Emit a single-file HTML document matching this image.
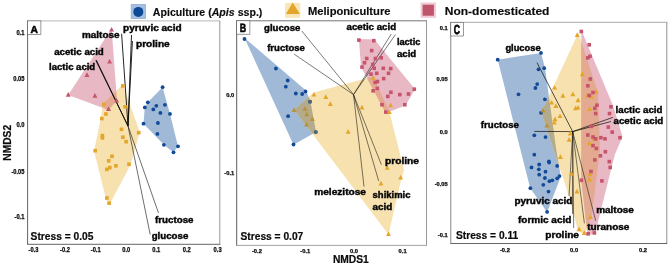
<!DOCTYPE html>
<html><head><meta charset="utf-8"><title>NMDS</title>
<style>
html,body{margin:0;padding:0;background:#fff;}
svg{display:block;}
text{font-family:"Liberation Sans",sans-serif;fill:#111;}
.lb{font-weight:bold;fill:#050505;stroke:#050505;stroke-width:0.42px;}
.st{font-weight:bold;fill:#0a0a0a;stroke:#0a0a0a;stroke-width:0.2px;}
.lg{font-weight:bold;fill:#0c0c0c;stroke:#0c0c0c;stroke-width:0.15px;}
.tk{font-weight:bold;fill:#0a0a0a;stroke:#0a0a0a;stroke-width:0.25px;}
.pl{font-weight:bold;fill:#000;stroke:#000;stroke-width:0.5px;text-rendering:geometricPrecision;}
</style></head><body>
<svg width="669" height="266" viewBox="0 0 669 266">
<rect width="669" height="266" fill="#fff"/>
<rect x="27.6" y="20.9" width="192.2" height="223.4" fill="#fff"/>
<polygon points="111.6,28.5 68.2,95.0 108.5,110.0 117.0,100.4" fill="#e8b9c5" fill-opacity="1.0"/>
<polygon points="122.8,84.5 103.0,103.5 100.8,118.5 94.0,151.0 106.0,199.0 109.5,204.5 130.5,165.0 139.8,132.0" fill="#f7e1af" fill-opacity="1.0"/>
<polygon points="162.6,87.2 147.8,102.3 144.8,107.4 143.5,123.7 163.9,144.8 173.5,152.3 178.0,146.3 170.0,113.9" fill="#a0b9d7" fill-opacity="1.0"/>
<clipPath id="c1"><polygon points="111.6,28.5 68.2,95.0 108.5,110.0 117.0,100.4"/></clipPath>
<polygon clip-path="url(#c1)" points="122.8,84.5 103.0,103.5 100.8,118.5 94.0,151.0 106.0,199.0 109.5,204.5 130.5,165.0 139.8,132.0" fill="#e4aa91"/>
<line x1="128.0" y1="126.0" x2="121.6" y2="33.8" stroke="#0c0c0c" stroke-width="0.9"/>
<line x1="128.0" y1="126.0" x2="131.5" y2="35.0" stroke="#0c0c0c" stroke-width="0.9"/>
<line x1="128.0" y1="126.0" x2="132.4" y2="41.0" stroke="#0c0c0c" stroke-width="0.9"/>
<line x1="128.0" y1="126.0" x2="95.8" y2="60.3" stroke="#0c0c0c" stroke-width="0.9"/>
<line x1="128.0" y1="126.0" x2="96.3" y2="60.1" stroke="#0c0c0c" stroke-width="0.9"/>
<line x1="128.0" y1="126.0" x2="158.5" y2="213.0" stroke="#0c0c0c" stroke-width="0.6"/>
<line x1="128.0" y1="126.0" x2="150.2" y2="234.5" stroke="#0c0c0c" stroke-width="0.6"/>
<polygon points="111.6,26.9 109.1,31.6 114.0,31.6" fill="#c5546c"/>
<polygon points="109.6,58.9 107.1,63.6 112.0,63.6" fill="#c5546c"/>
<polygon points="87.0,72.3 84.5,77.0 89.5,77.0" fill="#c5546c"/>
<polygon points="68.2,92.1 65.8,96.8 70.7,96.8" fill="#c5546c"/>
<polygon points="94.9,93.1 92.5,97.8 97.4,97.8" fill="#c5546c"/>
<polygon points="116.6,97.7 114.1,102.4 119.0,102.4" fill="#c5546c"/>
<polygon points="108.5,106.2 106.0,110.9 111.0,110.9" fill="#c5546c"/>
<rect x="121.0" y="84.1" width="3.6" height="3.6" fill="#e3a62a"/>
<rect x="123.3" y="105.0" width="3.6" height="3.6" fill="#e3a62a"/>
<rect x="102.0" y="102.5" width="3.6" height="3.6" fill="#e3a62a"/>
<rect x="104.1" y="112.2" width="3.6" height="3.6" fill="#e3a62a"/>
<rect x="100.0" y="116.8" width="3.6" height="3.6" fill="#e3a62a"/>
<rect x="119.7" y="127.5" width="3.6" height="3.6" fill="#e3a62a"/>
<rect x="136.9" y="130.9" width="3.6" height="3.6" fill="#e3a62a"/>
<rect x="100.6" y="133.8" width="3.6" height="3.6" fill="#e3a62a"/>
<rect x="100.6" y="136.1" width="3.6" height="3.6" fill="#e3a62a"/>
<rect x="121.1" y="135.4" width="3.6" height="3.6" fill="#e3a62a"/>
<rect x="124.3" y="139.9" width="3.6" height="3.6" fill="#e3a62a"/>
<rect x="93.4" y="148.9" width="3.6" height="3.6" fill="#e3a62a"/>
<rect x="110.2" y="154.5" width="3.6" height="3.6" fill="#e3a62a"/>
<rect x="106.9" y="159.0" width="3.6" height="3.6" fill="#e3a62a"/>
<rect x="114.1" y="164.0" width="3.6" height="3.6" fill="#e3a62a"/>
<rect x="108.0" y="165.8" width="3.6" height="3.6" fill="#e3a62a"/>
<rect x="105.1" y="167.6" width="3.6" height="3.6" fill="#e3a62a"/>
<rect x="127.2" y="162.4" width="3.6" height="3.6" fill="#e3a62a"/>
<rect x="105.1" y="196.2" width="3.6" height="3.6" fill="#e3a62a"/>
<rect x="107.3" y="201.4" width="3.6" height="3.6" fill="#e3a62a"/>
<circle cx="162.6" cy="87.2" r="1.9" fill="#124a98"/>
<circle cx="147.8" cy="102.3" r="1.9" fill="#124a98"/>
<circle cx="144.8" cy="107.4" r="1.9" fill="#124a98"/>
<circle cx="156.3" cy="105.8" r="1.9" fill="#124a98"/>
<circle cx="164.9" cy="104.8" r="1.9" fill="#124a98"/>
<circle cx="153.3" cy="109.4" r="1.9" fill="#124a98"/>
<circle cx="160.4" cy="112.9" r="1.9" fill="#124a98"/>
<circle cx="170.0" cy="113.9" r="1.9" fill="#124a98"/>
<circle cx="143.5" cy="123.7" r="1.9" fill="#124a98"/>
<circle cx="157.9" cy="123.0" r="1.9" fill="#124a98"/>
<circle cx="157.4" cy="133.9" r="1.9" fill="#124a98"/>
<circle cx="163.9" cy="144.8" r="1.9" fill="#124a98"/>
<circle cx="178.0" cy="146.3" r="1.9" fill="#124a98"/>
<circle cx="173.5" cy="152.3" r="1.9" fill="#124a98"/>
<text class="lb" x="82.0" y="37.6" font-size="9.3" textLength="37.5" lengthAdjust="spacingAndGlyphs">maltose</text>
<text class="lb" x="123.1" y="31.0" font-size="9.3" textLength="58.5" lengthAdjust="spacingAndGlyphs">pyruvic acid</text>
<text class="lb" x="136.0" y="47.0" font-size="9.3" textLength="33.7" lengthAdjust="spacingAndGlyphs">proline</text>
<text class="lb" x="54.2" y="55.2" font-size="9.3" textLength="49.6" lengthAdjust="spacingAndGlyphs">acetic acid</text>
<text class="lb" x="49.1" y="70.1" font-size="9.3" textLength="46.1" lengthAdjust="spacingAndGlyphs">lactic acid</text>
<text class="lb" x="155.1" y="222.9" font-size="9.3" textLength="38.4" lengthAdjust="spacingAndGlyphs">fructose</text>
<text class="lb" x="151.7" y="238.9" font-size="9.3" textLength="36.6" lengthAdjust="spacingAndGlyphs">glucose</text>
<line x1="27.15" y1="20.90" x2="220.25" y2="20.90" stroke="#b0b0b0" stroke-width="0.9"/>
<line x1="219.80" y1="20.90" x2="219.80" y2="244.30" stroke="#8c8c8c" stroke-width="0.9"/>
<line x1="27.15" y1="244.30" x2="220.25" y2="244.30" stroke="#555" stroke-width="0.9"/>
<line x1="27.60" y1="20.90" x2="27.60" y2="244.30" stroke="#505050" stroke-width="0.9"/>
<rect x="27.6" y="20.9" width="13.3" height="13.4" fill="#fff" stroke="#555" stroke-width="0.6"/>
<text class="pl" font-size="10.3" transform="translate(34.1,32.7) scale(1,1)" text-anchor="middle">A</text>
<text class="tk" font-size="6.5" x="24.4" y="35.0" text-anchor="end" textLength="8.0" lengthAdjust="spacingAndGlyphs">0.1</text>
<text class="tk" font-size="6.5" x="24.4" y="81.1" text-anchor="end" textLength="11.1" lengthAdjust="spacingAndGlyphs">0.05</text>
<text class="tk" font-size="6.5" x="24.4" y="127.3" text-anchor="end" textLength="8.0" lengthAdjust="spacingAndGlyphs">0.0</text>
<text class="tk" font-size="6.5" x="24.4" y="173.9" text-anchor="end" textLength="13.0" lengthAdjust="spacingAndGlyphs">-0.05</text>
<text class="tk" font-size="6.5" x="24.4" y="219.3" text-anchor="end" textLength="9.9" lengthAdjust="spacingAndGlyphs">-0.1</text>
<text class="tk" font-size="6.5" x="33.5" y="252.1" text-anchor="middle" textLength="9.9" lengthAdjust="spacingAndGlyphs">-0.3</text>
<text class="tk" font-size="6.5" x="65.0" y="252.1" text-anchor="middle" textLength="9.9" lengthAdjust="spacingAndGlyphs">-0.2</text>
<text class="tk" font-size="6.5" x="95.7" y="252.1" text-anchor="middle" textLength="9.9" lengthAdjust="spacingAndGlyphs">-0.1</text>
<text class="tk" font-size="6.5" x="126.2" y="252.1" text-anchor="middle" textLength="8.0" lengthAdjust="spacingAndGlyphs">0.0</text>
<text class="tk" font-size="6.5" x="156.2" y="252.1" text-anchor="middle" textLength="8.0" lengthAdjust="spacingAndGlyphs">0.1</text>
<text class="tk" font-size="6.5" x="186.7" y="252.1" text-anchor="middle" textLength="8.0" lengthAdjust="spacingAndGlyphs">0.2</text>
<text class="tk" font-size="6.5" x="217.6" y="252.1" text-anchor="middle" textLength="8.0" lengthAdjust="spacingAndGlyphs">0.3</text>
<text class="st" x="30.6" y="239.8" font-size="10.5" textLength="62.8" lengthAdjust="spacingAndGlyphs">Stress = 0.05</text>
<rect x="236.7" y="20.8" width="189.8" height="224.6" fill="#fff"/>
<polygon points="244.5,38.0 306.0,90.5 310.5,101.7 316.0,132.1 293.5,144.8" fill="#a0b9d7" fill-opacity="1.0"/>
<polygon points="294.1,110.0 313.5,92.5 373.3,76.5 389.5,112.0 404.0,170.0 401.5,178.0 388.5,234.5 311.0,132.0" fill="#f7e1af" fill-opacity="1.0"/>
<polygon points="358.9,39.0 374.5,39.5 415.0,89.2 405.5,105.5 385.8,113.0 361.0,67.0" fill="#e8b9c5" fill-opacity="1.0"/>
<clipPath id="c2"><polygon points="244.5,38.0 306.0,90.5 310.5,101.7 316.0,132.1 293.5,144.8"/></clipPath>
<polygon clip-path="url(#c2)" points="294.1,110.0 313.5,92.5 373.3,76.5 389.5,112.0 404.0,170.0 401.5,178.0 388.5,234.5 311.0,132.0" fill="#b4aa8c"/>
<clipPath id="c3"><polygon points="358.9,39.0 374.5,39.5 415.0,89.2 405.5,105.5 385.8,113.0 361.0,67.0"/></clipPath>
<polygon clip-path="url(#c3)" points="294.1,110.0 313.5,92.5 373.3,76.5 389.5,112.0 404.0,170.0 401.5,178.0 388.5,234.5 311.0,132.0" fill="#e4aa91"/>
<line x1="353.5" y1="94.6" x2="301.8" y2="31.0" stroke="#0c0c0c" stroke-width="0.55"/>
<line x1="353.5" y1="94.6" x2="294.1" y2="54.1" stroke="#0c0c0c" stroke-width="0.55"/>
<line x1="353.5" y1="94.6" x2="391.3" y2="34.0" stroke="#0c0c0c" stroke-width="0.55"/>
<line x1="353.5" y1="94.6" x2="395.5" y2="34.5" stroke="#0c0c0c" stroke-width="0.55"/>
<line x1="353.5" y1="94.6" x2="364.0" y2="186.6" stroke="#0c0c0c" stroke-width="0.55"/>
<line x1="353.5" y1="94.6" x2="381.4" y2="164.7" stroke="#0c0c0c" stroke-width="0.55"/>
<line x1="353.5" y1="94.6" x2="378.7" y2="181.0" stroke="#0c0c0c" stroke-width="0.55"/>
<circle cx="244.5" cy="39.0" r="1.9" fill="#124a98"/>
<circle cx="275.9" cy="68.5" r="1.9" fill="#124a98"/>
<circle cx="287.7" cy="80.5" r="1.9" fill="#124a98"/>
<circle cx="285.8" cy="86.7" r="1.9" fill="#124a98"/>
<circle cx="295.8" cy="93.5" r="1.9" fill="#124a98"/>
<circle cx="302.2" cy="94.0" r="1.9" fill="#124a98"/>
<circle cx="305.5" cy="91.5" r="1.9" fill="#124a98"/>
<circle cx="310.0" cy="101.7" r="1.9" fill="#124a98"/>
<circle cx="288.1" cy="116.2" r="1.9" fill="#124a98"/>
<circle cx="315.8" cy="132.1" r="1.9" fill="#124a98"/>
<circle cx="293.5" cy="144.5" r="1.9" fill="#124a98"/>
<circle cx="310" cy="101.7" r="1.9" fill="#4d6b78"/><circle cx="315.8" cy="132.1" r="1.9" fill="#4d6b78"/>
<polygon points="373.3,75.1 370.9,79.8 375.8,79.8" fill="#e3a62a"/>
<polygon points="325.8,94.3 323.4,99.0 328.2,99.0" fill="#e3a62a"/>
<polygon points="330.3,101.2 327.9,105.9 332.8,105.9" fill="#e3a62a"/>
<polygon points="362.0,104.7 359.6,109.4 364.4,109.4" fill="#e3a62a"/>
<polygon points="390.7,102.6 388.2,107.3 393.1,107.3" fill="#e3a62a"/>
<polygon points="389.3,109.4 386.9,114.1 391.8,114.1" fill="#e3a62a"/>
<polygon points="314.0,91.9 311.6,96.6 316.4,96.6" fill="#e3a62a"/>
<polygon points="348.1,129.0 345.7,133.7 350.6,133.7" fill="#e3a62a"/>
<polygon points="387.2,165.0 384.8,169.7 389.6,169.7" fill="#e3a62a"/>
<polygon points="400.7,174.7 398.2,179.4 403.1,179.4" fill="#e3a62a"/>
<polygon points="381.0,180.8 378.6,185.5 383.4,185.5" fill="#e3a62a"/>
<polygon points="388.5,231.3 386.1,236.0 390.9,236.0" fill="#e3a62a"/>
<rect x="357.1" y="38.3" width="3.6" height="3.6" fill="#c5546c"/>
<rect x="372.0" y="38.9" width="3.6" height="3.6" fill="#c5546c"/>
<rect x="369.9" y="48.8" width="3.6" height="3.6" fill="#c5546c"/>
<rect x="364.9" y="56.7" width="3.6" height="3.6" fill="#c5546c"/>
<rect x="373.6" y="56.7" width="3.6" height="3.6" fill="#c5546c"/>
<rect x="379.4" y="56.0" width="3.6" height="3.6" fill="#c5546c"/>
<rect x="362.7" y="61.0" width="3.6" height="3.6" fill="#c5546c"/>
<rect x="370.9" y="62.7" width="3.6" height="3.6" fill="#c5546c"/>
<rect x="360.2" y="65.3" width="3.6" height="3.6" fill="#c5546c"/>
<rect x="372.4" y="66.5" width="3.6" height="3.6" fill="#c5546c"/>
<rect x="381.5" y="66.5" width="3.6" height="3.6" fill="#c5546c"/>
<rect x="388.9" y="66.8" width="3.6" height="3.6" fill="#c5546c"/>
<rect x="369.2" y="72.3" width="3.6" height="3.6" fill="#c5546c"/>
<rect x="374.9" y="71.5" width="3.6" height="3.6" fill="#c5546c"/>
<rect x="386.7" y="71.5" width="3.6" height="3.6" fill="#c5546c"/>
<rect x="381.9" y="76.8" width="3.6" height="3.6" fill="#c5546c"/>
<rect x="375.7" y="79.7" width="3.6" height="3.6" fill="#c5546c"/>
<rect x="373.4" y="80.6" width="3.6" height="3.6" fill="#c5546c"/>
<rect x="371.3" y="89.0" width="3.6" height="3.6" fill="#c5546c"/>
<rect x="375.5" y="86.6" width="3.6" height="3.6" fill="#c5546c"/>
<rect x="389.1" y="90.5" width="3.6" height="3.6" fill="#c5546c"/>
<rect x="386.0" y="94.6" width="3.6" height="3.6" fill="#c5546c"/>
<rect x="398.0" y="92.8" width="3.6" height="3.6" fill="#c5546c"/>
<rect x="406.7" y="92.2" width="3.6" height="3.6" fill="#c5546c"/>
<rect x="412.5" y="87.4" width="3.6" height="3.6" fill="#c5546c"/>
<rect x="403.0" y="102.9" width="3.6" height="3.6" fill="#c5546c"/>
<rect x="380.2" y="102.9" width="3.6" height="3.6" fill="#c5546c"/>
<rect x="384.0" y="110.3" width="3.6" height="3.6" fill="#c5546c"/>
<polygon points="294.1,107.2 291.7,111.9 296.6,111.9" fill="#b8933a"/>
<polygon points="304.9,106.1 302.4,110.8 307.3,110.8" fill="#b8933a"/>
<polygon points="306.9,111.6 304.4,116.3 309.3,116.3" fill="#b8933a"/>
<polygon points="312.3,116.3 309.9,121.0 314.8,121.0" fill="#b8933a"/>
<polygon points="306.5,121.7 304.1,126.4 308.9,126.4" fill="#b8933a"/>
<text class="lb" x="264.1" y="31.2" font-size="9.3" textLength="36.2" lengthAdjust="spacingAndGlyphs">glucose</text>
<text class="lb" x="267.2" y="51.0" font-size="9.3" textLength="37.7" lengthAdjust="spacingAndGlyphs">fructose</text>
<text class="lb" x="346.5" y="30.4" font-size="9.3" textLength="49.6" lengthAdjust="spacingAndGlyphs">acetic acid</text>
<text class="lb" x="396.9" y="44.8" font-size="9.3" textLength="23.4" lengthAdjust="spacingAndGlyphs">lactic</text>
<text class="lb" x="397.0" y="56.6" font-size="9.3" textLength="19.2" lengthAdjust="spacingAndGlyphs">acid</text>
<text class="lb" x="385.0" y="163.9" font-size="9.3" textLength="34.0" lengthAdjust="spacingAndGlyphs">proline</text>
<text class="lb" x="314.2" y="194.8" font-size="9.3" textLength="51.8" lengthAdjust="spacingAndGlyphs">melezitose</text>
<text class="lb" x="372.6" y="197.8" font-size="9.3" textLength="37.9" lengthAdjust="spacingAndGlyphs">shikimic</text>
<text class="lb" x="372.6" y="210.0" font-size="9.3" textLength="19.8" lengthAdjust="spacingAndGlyphs">acid</text>
<line x1="236.25" y1="20.80" x2="426.95" y2="20.80" stroke="#666" stroke-width="0.9"/>
<line x1="426.50" y1="20.80" x2="426.50" y2="245.40" stroke="#8c8c8c" stroke-width="0.9"/>
<line x1="236.25" y1="245.40" x2="426.95" y2="245.40" stroke="#999" stroke-width="0.9"/>
<line x1="236.70" y1="20.80" x2="236.70" y2="245.40" stroke="#4a4a4a" stroke-width="0.9"/>
<rect x="236.7" y="20.8" width="13.2" height="13.4" fill="#fff" stroke="#555" stroke-width="0.6"/>
<text class="pl" font-size="10.3" transform="translate(243.0,31.9) scale(0.86,1.17)" text-anchor="middle">B</text>
<text class="tk" font-size="5.6" x="234.2" y="96.8" text-anchor="end" textLength="8.0" lengthAdjust="spacingAndGlyphs">0.0</text>
<text class="tk" font-size="5.6" x="234.2" y="174.5" text-anchor="end" textLength="9.9" lengthAdjust="spacingAndGlyphs">-0.1</text>
<text class="tk" font-size="5.6" x="256.9" y="252.9" text-anchor="middle" textLength="9.9" lengthAdjust="spacingAndGlyphs">-0.2</text>
<text class="tk" font-size="5.6" x="305.3" y="252.9" text-anchor="middle" textLength="9.9" lengthAdjust="spacingAndGlyphs">-0.1</text>
<text class="tk" font-size="5.6" x="354.0" y="252.9" text-anchor="middle" textLength="8.0" lengthAdjust="spacingAndGlyphs">0.0</text>
<text class="tk" font-size="5.6" x="402.6" y="252.9" text-anchor="middle" textLength="8.0" lengthAdjust="spacingAndGlyphs">0.1</text>
<text class="st" x="240.5" y="240.0" font-size="10.5" textLength="62.8" lengthAdjust="spacingAndGlyphs">Stress = 0.07</text>
<text class="st" x="332.9" y="263.2" font-size="10.2" textLength="35.9" lengthAdjust="spacingAndGlyphs">NMDS1</text>
<rect x="450.8" y="22.3" width="216.0" height="221.2" fill="#fff"/>
<polygon points="497.7,59.7 541.0,52.9 545.0,68.0 556.0,148.0 560.8,176.5 547.1,212.3 530.2,188.2" fill="#a0b9d7" fill-opacity="1.0"/>
<polygon points="578.3,33.0 541.3,112.5 568.5,194.5 578.0,231.0 584.5,234.5 591.5,217.0 600.0,150.0 598.0,92.0" fill="#f7e1af" fill-opacity="1.0"/>
<polygon points="581.3,30.0 581.3,180.0 587.5,235.0 595.0,234.0 614.7,155.0 622.5,136.6 612.8,105.0" fill="#e8b9c5" fill-opacity="1.0"/>
<clipPath id="c4"><polygon points="497.7,59.7 541.0,52.9 545.0,68.0 556.0,148.0 560.8,176.5 547.1,212.3 530.2,188.2"/></clipPath>
<polygon clip-path="url(#c4)" points="578.3,33.0 541.3,112.5 568.5,194.5 578.0,231.0 584.5,234.5 591.5,217.0 600.0,150.0 598.0,92.0" fill="#b4aa8c"/>
<clipPath id="c5"><polygon points="581.3,30.0 581.3,180.0 587.5,235.0 595.0,234.0 614.7,155.0 622.5,136.6 612.8,105.0"/></clipPath>
<polygon clip-path="url(#c5)" points="578.3,33.0 541.3,112.5 568.5,194.5 578.0,231.0 584.5,234.5 591.5,217.0 600.0,150.0 598.0,92.0" fill="#e4aa91"/>
<line x1="572.7" y1="131.6" x2="537.0" y2="62.7" stroke="#0c0c0c" stroke-width="0.7"/>
<line x1="572.7" y1="131.6" x2="534.3" y2="131.4" stroke="#0c0c0c" stroke-width="0.7"/>
<line x1="572.7" y1="131.6" x2="612.8" y2="117.4" stroke="#0c0c0c" stroke-width="0.7"/>
<line x1="572.7" y1="131.6" x2="611.0" y2="121.5" stroke="#0c0c0c" stroke-width="0.7"/>
<line x1="572.7" y1="131.6" x2="569.0" y2="196.0" stroke="#0c0c0c" stroke-width="0.55"/>
<line x1="572.7" y1="131.6" x2="572.5" y2="214.0" stroke="#0c0c0c" stroke-width="0.55"/>
<line x1="572.7" y1="131.6" x2="573.7" y2="228.0" stroke="#0c0c0c" stroke-width="0.55"/>
<line x1="572.7" y1="131.6" x2="584.4" y2="223.3" stroke="#0c0c0c" stroke-width="0.55"/>
<line x1="572.7" y1="131.6" x2="595.7" y2="220.8" stroke="#0c0c0c" stroke-width="0.55"/>
<circle cx="497.7" cy="59.7" r="1.9" fill="#124a98"/>
<circle cx="541.0" cy="52.9" r="1.9" fill="#124a98"/>
<circle cx="544.2" cy="68.2" r="1.9" fill="#124a98"/>
<circle cx="538.5" cy="69.3" r="1.9" fill="#124a98"/>
<circle cx="537.2" cy="84.1" r="1.9" fill="#124a98"/>
<circle cx="535.4" cy="88.0" r="1.9" fill="#124a98"/>
<circle cx="518.5" cy="94.3" r="1.9" fill="#124a98"/>
<circle cx="544.9" cy="99.3" r="1.9" fill="#124a98"/>
<circle cx="541.0" cy="112.8" r="1.9" fill="#124a98"/>
<circle cx="534.3" cy="135.3" r="1.9" fill="#124a98"/>
<circle cx="545.5" cy="137.1" r="1.9" fill="#124a98"/>
<circle cx="534.3" cy="154.7" r="1.9" fill="#124a98"/>
<circle cx="531.5" cy="167.4" r="1.9" fill="#124a98"/>
<circle cx="539.2" cy="164.5" r="1.9" fill="#124a98"/>
<circle cx="549.1" cy="162.5" r="1.9" fill="#124a98"/>
<circle cx="538.8" cy="169.3" r="1.9" fill="#124a98"/>
<circle cx="539.2" cy="174.7" r="1.9" fill="#124a98"/>
<circle cx="545.5" cy="171.7" r="1.9" fill="#124a98"/>
<circle cx="544.9" cy="178.0" r="1.9" fill="#124a98"/>
<circle cx="552.3" cy="180.3" r="1.9" fill="#124a98"/>
<circle cx="549.4" cy="181.2" r="1.9" fill="#124a98"/>
<circle cx="557.2" cy="165.9" r="1.9" fill="#124a98"/>
<circle cx="559.5" cy="176.1" r="1.9" fill="#124a98"/>
<circle cx="557.2" cy="178.3" r="1.9" fill="#124a98"/>
<circle cx="548.9" cy="161.3" r="1.9" fill="#124a98"/>
<circle cx="543.3" cy="184.8" r="1.9" fill="#124a98"/>
<circle cx="530.4" cy="188.2" r="1.9" fill="#124a98"/>
<circle cx="548.5" cy="191.6" r="1.9" fill="#124a98"/>
<circle cx="547.1" cy="211.9" r="1.9" fill="#124a98"/>
<polygon points="577.2,32.2 574.8,36.9 579.7,36.9" fill="#e3a62a"/>
<polygon points="582.4,71.6 579.9,76.3 584.9,76.3" fill="#e3a62a"/>
<polygon points="554.6,84.9 552.1,89.6 557.1,89.6" fill="#e3a62a"/>
<polygon points="562.9,93.0 560.4,97.7 565.4,97.7" fill="#e3a62a"/>
<polygon points="572.9,91.5 570.4,96.2 575.4,96.2" fill="#e3a62a"/>
<polygon points="578.0,97.5 575.5,102.2 580.5,102.2" fill="#e3a62a"/>
<polygon points="551.6,99.9 549.1,104.6 554.1,104.6" fill="#e3a62a"/>
<polygon points="578.0,104.9 575.5,109.6 580.5,109.6" fill="#e3a62a"/>
<polygon points="560.0,113.4 557.5,118.1 562.5,118.1" fill="#e3a62a"/>
<polygon points="596.4,88.9 593.9,93.6 598.9,93.6" fill="#e3a62a"/>
<polygon points="591.4,93.9 588.9,98.6 593.9,98.6" fill="#e3a62a"/>
<polygon points="587.3,92.8 584.8,97.5 589.8,97.5" fill="#e3a62a"/>
<polygon points="555.9,103.2 553.4,107.9 558.4,107.9" fill="#e3a62a"/>
<polygon points="575.6,105.6 573.1,110.3 578.1,110.3" fill="#e3a62a"/>
<polygon points="589.6,106.3 587.1,111.0 592.1,111.0" fill="#e3a62a"/>
<polygon points="555.0,116.6 552.5,121.3 557.5,121.3" fill="#e3a62a"/>
<polygon points="554.3,119.7 551.8,124.4 556.8,124.4" fill="#e3a62a"/>
<polygon points="570.2,130.7 567.8,135.4 572.7,135.4" fill="#e3a62a"/>
<polygon points="569.1,137.1 566.6,141.8 571.6,141.8" fill="#e3a62a"/>
<polygon points="589.2,140.6 586.8,145.3 591.7,145.3" fill="#e3a62a"/>
<polygon points="594.0,136.1 591.5,140.8 596.5,140.8" fill="#e3a62a"/>
<polygon points="560.4,154.2 557.9,158.9 562.9,158.9" fill="#e3a62a"/>
<polygon points="571.4,170.8 568.9,175.5 573.9,175.5" fill="#e3a62a"/>
<polygon points="589.9,171.5 587.4,176.2 592.4,176.2" fill="#e3a62a"/>
<polygon points="589.5,176.7 587.0,181.4 592.0,181.4" fill="#e3a62a"/>
<polygon points="577.0,188.8 574.5,193.5 579.5,193.5" fill="#e3a62a"/>
<polygon points="590.4,214.2 587.9,218.9 592.9,218.9" fill="#e3a62a"/>
<polygon points="579.1,226.6 576.6,231.3 581.6,231.3" fill="#e3a62a"/>
<polygon points="584.3,230.2 581.8,234.9 586.8,234.9" fill="#e3a62a"/>
<rect x="579.5" y="29.7" width="3.6" height="3.6" fill="#c5546c"/>
<rect x="587.4" y="43.0" width="3.6" height="3.6" fill="#c5546c"/>
<rect x="588.2" y="54.5" width="3.6" height="3.6" fill="#c5546c"/>
<rect x="586.0" y="56.1" width="3.6" height="3.6" fill="#c5546c"/>
<rect x="588.5" y="77.2" width="3.6" height="3.6" fill="#c5546c"/>
<rect x="586.0" y="84.0" width="3.6" height="3.6" fill="#c5546c"/>
<rect x="591.2" y="90.7" width="3.6" height="3.6" fill="#c5546c"/>
<rect x="587.4" y="93.7" width="3.6" height="3.6" fill="#c5546c"/>
<rect x="595.2" y="103.4" width="3.6" height="3.6" fill="#c5546c"/>
<rect x="593.0" y="106.5" width="3.6" height="3.6" fill="#c5546c"/>
<rect x="593.9" y="111.7" width="3.6" height="3.6" fill="#c5546c"/>
<rect x="609.2" y="105.0" width="3.6" height="3.6" fill="#c5546c"/>
<rect x="607.7" y="111.8" width="3.6" height="3.6" fill="#c5546c"/>
<rect x="606.5" y="125.3" width="3.6" height="3.6" fill="#c5546c"/>
<rect x="610.4" y="130.3" width="3.6" height="3.6" fill="#c5546c"/>
<rect x="589.4" y="124.6" width="3.6" height="3.6" fill="#c5546c"/>
<rect x="586.0" y="133.2" width="3.6" height="3.6" fill="#c5546c"/>
<rect x="591.2" y="135.2" width="3.6" height="3.6" fill="#c5546c"/>
<rect x="593.9" y="137.0" width="3.6" height="3.6" fill="#c5546c"/>
<rect x="599.1" y="135.9" width="3.6" height="3.6" fill="#c5546c"/>
<rect x="603.2" y="137.0" width="3.6" height="3.6" fill="#c5546c"/>
<rect x="618.2" y="135.9" width="3.6" height="3.6" fill="#c5546c"/>
<rect x="591.2" y="143.8" width="3.6" height="3.6" fill="#c5546c"/>
<rect x="594.6" y="146.7" width="3.6" height="3.6" fill="#c5546c"/>
<rect x="603.6" y="149.9" width="3.6" height="3.6" fill="#c5546c"/>
<rect x="598.6" y="154.0" width="3.6" height="3.6" fill="#c5546c"/>
<rect x="593.0" y="158.1" width="3.6" height="3.6" fill="#c5546c"/>
<rect x="607.5" y="159.8" width="3.6" height="3.6" fill="#c5546c"/>
<rect x="608.4" y="165.6" width="3.6" height="3.6" fill="#c5546c"/>
<rect x="589.2" y="169.7" width="3.6" height="3.6" fill="#c5546c"/>
<rect x="600.1" y="179.1" width="3.6" height="3.6" fill="#c5546c"/>
<rect x="579.5" y="178.5" width="3.6" height="3.6" fill="#c5546c"/>
<rect x="586.3" y="232.0" width="3.6" height="3.6" fill="#c5546c"/>
<rect x="592.6" y="231.1" width="3.6" height="3.6" fill="#c5546c"/>
<polygon points="543.0,107.8 540.5,112.5 545.5,112.5" fill="#b8933a"/>
<polygon points="546.9,122.9 544.4,127.6 549.4,127.6" fill="#b8933a"/>
<text class="lb" x="505.4" y="51.0" font-size="9.3" textLength="35.2" lengthAdjust="spacingAndGlyphs">glucose</text>
<text class="lb" x="480.8" y="128.0" font-size="9.3" textLength="38.1" lengthAdjust="spacingAndGlyphs">fructose</text>
<text class="lb" x="615.6" y="112.9" font-size="9.3" textLength="46.8" lengthAdjust="spacingAndGlyphs">lactic acid</text>
<text class="lb" x="613.5" y="124.4" font-size="9.3" textLength="49.8" lengthAdjust="spacingAndGlyphs">acetic acid</text>
<text class="lb" x="514.4" y="203.8" font-size="9.3" textLength="57.9" lengthAdjust="spacingAndGlyphs">pyruvic acid</text>
<text class="lb" x="518.0" y="222.7" font-size="9.3" textLength="53.4" lengthAdjust="spacingAndGlyphs">formic acid</text>
<text class="lb" x="545.3" y="237.7" font-size="9.3" textLength="33.7" lengthAdjust="spacingAndGlyphs">proline</text>
<text class="lb" x="596.2" y="213.0" font-size="9.3" textLength="37.7" lengthAdjust="spacingAndGlyphs">maltose</text>
<text class="lb" x="587.2" y="230.4" font-size="9.3" textLength="42.2" lengthAdjust="spacingAndGlyphs">turanose</text>
<line x1="450.35" y1="22.30" x2="667.25" y2="22.30" stroke="#a0a0a0" stroke-width="0.9"/>
<line x1="666.80" y1="22.30" x2="666.80" y2="243.50" stroke="#858585" stroke-width="0.9"/>
<line x1="450.35" y1="243.50" x2="667.25" y2="243.50" stroke="#555" stroke-width="0.9"/>
<line x1="450.80" y1="22.30" x2="450.80" y2="243.50" stroke="#777" stroke-width="0.9"/>
<rect x="450.8" y="22.3" width="12.9" height="13.7" fill="#fff" stroke="#555" stroke-width="0.6"/>
<text class="pl" font-size="10.3" transform="translate(456.9,33.7) scale(0.84,1.27)" text-anchor="middle">C</text>
<text class="tk" font-size="5.6" x="447.7" y="30.1" text-anchor="end" textLength="8.0" lengthAdjust="spacingAndGlyphs">0.1</text>
<text class="tk" font-size="5.6" x="447.7" y="81.4" text-anchor="end" textLength="11.1" lengthAdjust="spacingAndGlyphs">0.05</text>
<text class="tk" font-size="5.6" x="447.7" y="134.1" text-anchor="end" textLength="8.0" lengthAdjust="spacingAndGlyphs">0.0</text>
<text class="tk" font-size="5.6" x="447.7" y="185.9" text-anchor="end" textLength="13.0" lengthAdjust="spacingAndGlyphs">-0.05</text>
<text class="tk" font-size="5.6" x="447.7" y="237.2" text-anchor="end" textLength="9.9" lengthAdjust="spacingAndGlyphs">-0.1</text>
<text class="tk" font-size="5.6" x="504.9" y="252.4" text-anchor="middle" textLength="9.9" lengthAdjust="spacingAndGlyphs">-0.2</text>
<text class="tk" font-size="5.6" x="574.1" y="252.4" text-anchor="middle" textLength="8.0" lengthAdjust="spacingAndGlyphs">0.0</text>
<text class="tk" font-size="5.6" x="643.0" y="252.4" text-anchor="middle" textLength="8.0" lengthAdjust="spacingAndGlyphs">0.2</text>
<text class="st" x="456.0" y="238.7" font-size="10.6" textLength="62.2" lengthAdjust="spacingAndGlyphs">Stress = 0.11</text>
<rect x="131.2" y="4.4" width="14.4" height="14.2" fill="#a6bfe0" stroke="#92b0d8" stroke-width="0.8"/>
<circle cx="138.3" cy="11.9" r="5" fill="#0d4a96"/>
<text class="lg" x="152.8" y="15.6" font-size="11.5" textLength="109.6" lengthAdjust="spacingAndGlyphs">Apiculture (<tspan font-style="italic">Apis</tspan> ssp.)</text>
<rect x="285.1" y="2.9" width="15.2" height="14.9" fill="#f9e6b8"/>
<polygon points="292.7,2.4 285.9,13.9 299.9,13.9" fill="#e3a62a"/>
<text class="lg" x="307.9" y="14.6" font-size="11.5" textLength="82.6" lengthAdjust="spacingAndGlyphs">Meliponiculture</text>
<rect x="420.6" y="2.5" width="15.3" height="15.3" fill="#f1cad3"/>
<rect x="422.6" y="4.7" width="11.3" height="11" fill="#c0546a"/>
<text class="lg" x="444.8" y="14.6" font-size="11.5" textLength="104.6" lengthAdjust="spacingAndGlyphs">Non-domesticated</text>
<text class="st" font-size="10.2" textLength="35.8" lengthAdjust="spacingAndGlyphs" transform="translate(11.1,160.7) rotate(-90)">NMDS2</text>
</svg>
</body></html>
